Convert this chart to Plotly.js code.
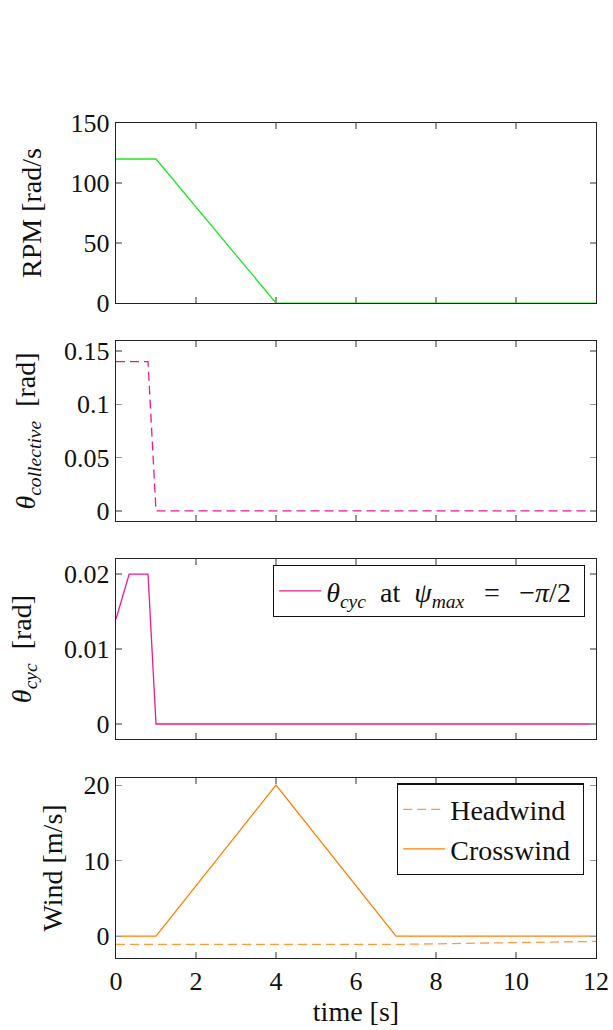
<!DOCTYPE html>
<html>
<head>
<meta charset="utf-8">
<script src="https://cdn.plot.ly/plotly-3.0.1.min.js"></script>
<style>
  html, body { margin: 0; padding: 0; background: #fff; }
  #chart { width: 613px; height: 1030px; }
</style>
</head>
<body>
<div id="chart"></div>
<script>
// ---- data ----
const rpmTime = [0, 1, 4, 12];
const rpmValues = [120, 120, 0, 0];

const collectiveTime = [0, 0.8, 1, 12];
const collectiveValues = [0.14, 0.14, 0, 0];

const cyclicTime = [0, 0.33, 0.8, 1, 12];
const cyclicValues = [0.014, 0.02, 0.02, 0, 0];

const crosswindTime = [0, 1, 4, 7, 12];
const crosswindValues = [0, 0, 20, 0, 0];

const headwindTime = [0, 7, 12];
const headwindValues = [-1.1, -1.1, -0.7];

const xTicks = [0, 2, 4, 6, 8, 10, 12];
const rpmTicks = [0, 50, 100, 150];
const collectiveTicks = [0, 0.05, 0.1, 0.15];
const collectiveTickText = ['0', '0.05', '0.1', '0.15'];
const cyclicTicks = [0, 0.01, 0.02];
const cyclicTickText = ['0', '0.01', '0.02'];
const windTicks = [0, 10, 20];

const legendCyclic = '<i>θ</i><sub><i>cyc</i></sub>\u2002at\u2002<i>ψ</i><sub><i>max</i></sub>\u2002\u2009=\u2002\u2009−<i>π</i>/2\u00a0';
const legendHead = 'Headwind\u00a0';
const legendCross = 'Crosswind\u00a0';

// ---- styling ----
const FONT = 'Liberation Serif, Times New Roman, serif';
const TICK_FS = 26;
const TITLE_FS = 28;
const LEG_FS = 28;

const traces = [
  { x: rpmTime, y: rpmValues, xaxis: 'x', yaxis: 'y', mode: 'lines',
    line: { color: '#22e622', width: 1.3 }, showlegend: false },
  { x: collectiveTime, y: collectiveValues, xaxis: 'x2', yaxis: 'y2', mode: 'lines',
    line: { color: '#ea1a8e', width: 1.3, dash: '9px,5px' }, showlegend: false },
  { x: cyclicTime, y: cyclicValues, xaxis: 'x3', yaxis: 'y3', mode: 'lines',
    name: legendCyclic, legend: 'legend',
    line: { color: '#ea1a8e', width: 1.3 }, showlegend: true },
  { x: headwindTime, y: headwindValues, xaxis: 'x4', yaxis: 'y4', mode: 'lines',
    name: legendHead, legend: 'legend2',
    line: { color: '#ff9a40', width: 1.3, dash: '9px,5px' }, showlegend: true },
  { x: crosswindTime, y: crosswindValues, xaxis: 'x4', yaxis: 'y4', mode: 'lines',
    name: legendCross, legend: 'legend2',
    line: { color: '#ff8000', width: 1.3 }, showlegend: true }
];

function xAxis(domainY, showLabels) {
  return {
    range: [0, 12],
    tickvals: xTicks,
    ticktext: xTicks.map(String),
    showticklabels: showLabels,
    ticks: 'inside', ticklen: 6, tickwidth: 1.2, tickcolor: '#999',
    showline: true, linecolor: '#222', linewidth: 1.2, mirror: 'ticks',
    showgrid: false, zeroline: false,
    tickfont: { family: FONT, size: TICK_FS, color: '#111' },
    anchor: domainY
  };
}
function yAxis(domain, range, tickvals, ticktext, title, anchor, standoff) {
  return {
    domain: domain,
    range: range,
    tickvals: tickvals,
    ticktext: ticktext,
    ticks: 'inside', ticklen: 6, tickwidth: 1.2, tickcolor: '#999',
    showline: true, linecolor: '#222', linewidth: 1.2, mirror: 'ticks',
    showgrid: false, zeroline: false,
    tickfont: { family: FONT, size: TICK_FS, color: '#111' },
    title: { text: title, font: { family: FONT, size: TITLE_FS, color: '#111' }, standoff: standoff },
    anchor: anchor
  };
}

const legendBase = {
  xanchor: 'right', yanchor: 'top',
  xref: 'paper', yref: 'paper',
  bgcolor: '#fff', bordercolor: '#111', borderwidth: 1.2,
  itemwidth: 42,
  font: { family: FONT, size: LEG_FS, color: '#111' }
};

const layout = {
  width: 613, height: 1030,
  margin: { l: 116, r: 17, t: 123, b: 72 },
  paper_bgcolor: '#fff', plot_bgcolor: '#fff',
  font: { family: FONT, size: TICK_FS, color: '#111' },
  xaxis:  Object.assign(xAxis('y', false), { domain: [0, 1] }),
  xaxis2: Object.assign(xAxis('y2', false), { domain: [0, 1] }),
  xaxis3: Object.assign(xAxis('y3', false), { domain: [0, 1] }),
  xaxis4: Object.assign(xAxis('y4', true), { domain: [0, 1],
    title: { text: 'time [s]', font: { family: FONT, size: TITLE_FS, color: '#111' }, standoff: 4 } }),
  yaxis:  yAxis([0.7844, 1], [0, 150], rpmTicks, rpmTicks.map(String), 'RPM [rad/s\u00a0\u00a0', 'x', 20),
  yaxis2: yAxis([0.5234, 0.7389], [-0.0094, 0.1594], collectiveTicks, collectiveTickText,
                '<i>θ</i><sub><i>collective</i></sub>\u2002[rad]', 'x2', 20),
  yaxis3: yAxis([0.2623, 0.4778], [-0.002, 0.022], cyclicTicks, cyclicTickText,
                '<i>θ</i><sub><i>cyc</i></sub>\u2002[rad]', 'x3', 24),
  yaxis4: yAxis([0, 0.2156], [-2.9, 20.95], windTicks, windTicks.map(String), 'Wind [m/s]', 'x4', 12),
  legend: Object.assign({}, legendBase, { x: 0.977, y: 0.4707 }),
  legend2: Object.assign({}, legendBase, { x: 0.975, y: 0.209 }),
  showlegend: true
};

Plotly.newPlot('chart', traces, layout, { staticPlot: true, displayModeBar: false });
</script>
</body>
</html>
